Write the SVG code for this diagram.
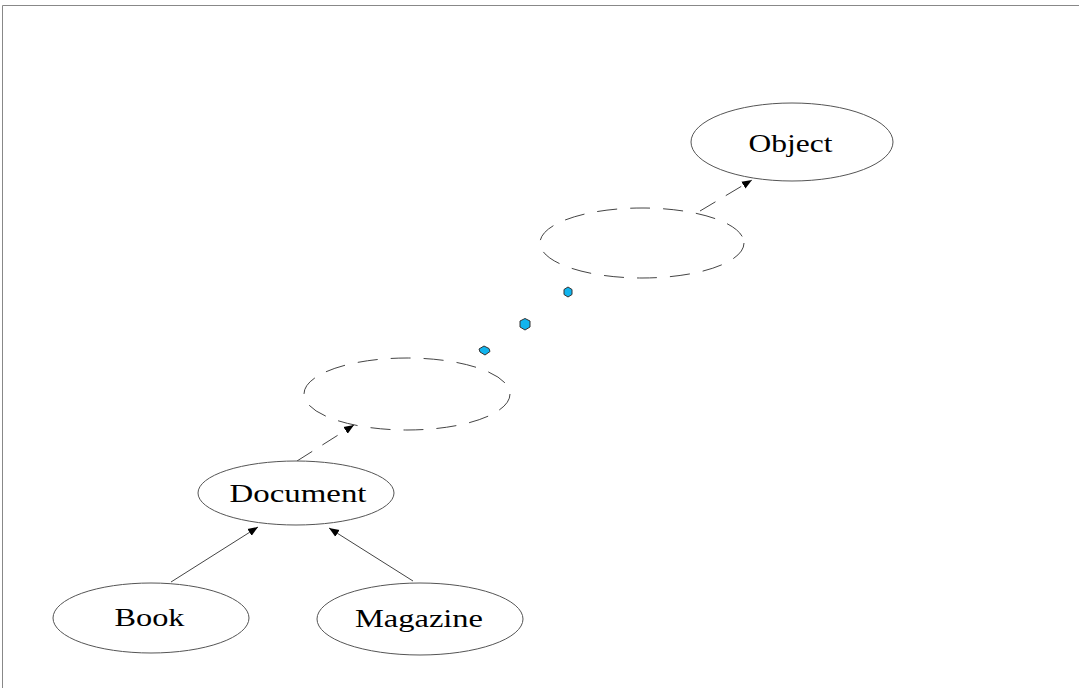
<svg xmlns="http://www.w3.org/2000/svg" width="1079" height="688" viewBox="0 0 1079 688">
<defs>
<style>
.n{fill:#fff;stroke:#555;stroke-width:1}
.d{fill:none;stroke:#444;stroke-width:1;stroke-dasharray:20 13}
.t{font-family:"Liberation Serif","Times New Roman",serif;font-size:26px;fill:#000;text-anchor:middle}
.e{stroke:#444;stroke-width:1;fill:none}
.ed{stroke:#444;stroke-width:1;fill:none;stroke-dasharray:18 12}
.dot{fill:#10B4EE;stroke:#333;stroke-width:1}
</style>
<marker id="a" viewBox="0 0 10 10" refX="10" refY="5" markerWidth="10" markerHeight="10" markerUnits="userSpaceOnUse" orient="auto">
<path d="M0,1 L10,5 L0,9 z" fill="#000"/>
</marker>
</defs>
<rect width="1079" height="688" fill="#fff"/>
<path d="M2.5,688 V5.5 H1079" fill="none" stroke="#888" stroke-width="1"/>
<g id="connectors">
<line class="e" x1="171" y1="582" x2="258" y2="527" marker-end="url(#a)"/>
<line class="e" x1="413" y1="581" x2="329" y2="528" marker-end="url(#a)"/>
<line class="ed" x1="297" y1="461" x2="354" y2="425" marker-end="url(#a)"/>
<line class="ed" x1="700" y1="211" x2="752" y2="180" marker-end="url(#a)"/>
</g>
<g id="object"><ellipse class="n" cx="792" cy="142" rx="101" ry="39"/><text class="t" x="790.5" y="152" textLength="84" lengthAdjust="spacingAndGlyphs">Object</text></g>
<g id="hidden-upper"><ellipse class="d" cx="642" cy="243" rx="102" ry="35"/></g>
<g id="hidden-lower"><ellipse class="d" cx="407" cy="394" rx="103" ry="36"/></g>
<g id="dots">
<path class="dot" d="M568,287 L572,289.5 L572,294.5 L568,297 L564,294.5 L564,289.5 z"/>
<path class="dot" d="M525,318.5 L530,321 L530,327 L525,330 L520,327 L520,321 z"/>
<path class="dot" d="M484,346 L489,348.5 L490,351.5 L485,355 L480,352 L479,349 z"/>
</g>
<g id="document"><ellipse class="n" cx="296" cy="493" rx="98" ry="32"/><text class="t" x="298" y="502" textLength="137" lengthAdjust="spacingAndGlyphs">Document</text></g>
<g id="book"><ellipse class="n" cx="151" cy="618" rx="98" ry="35"/><text class="t" x="149.5" y="626" textLength="70" lengthAdjust="spacingAndGlyphs">Book</text></g>
<g id="magazine"><ellipse class="n" cx="420" cy="619" rx="103" ry="36"/><text class="t" x="419" y="627" textLength="128" lengthAdjust="spacingAndGlyphs">Magazine</text></g>
</svg>
